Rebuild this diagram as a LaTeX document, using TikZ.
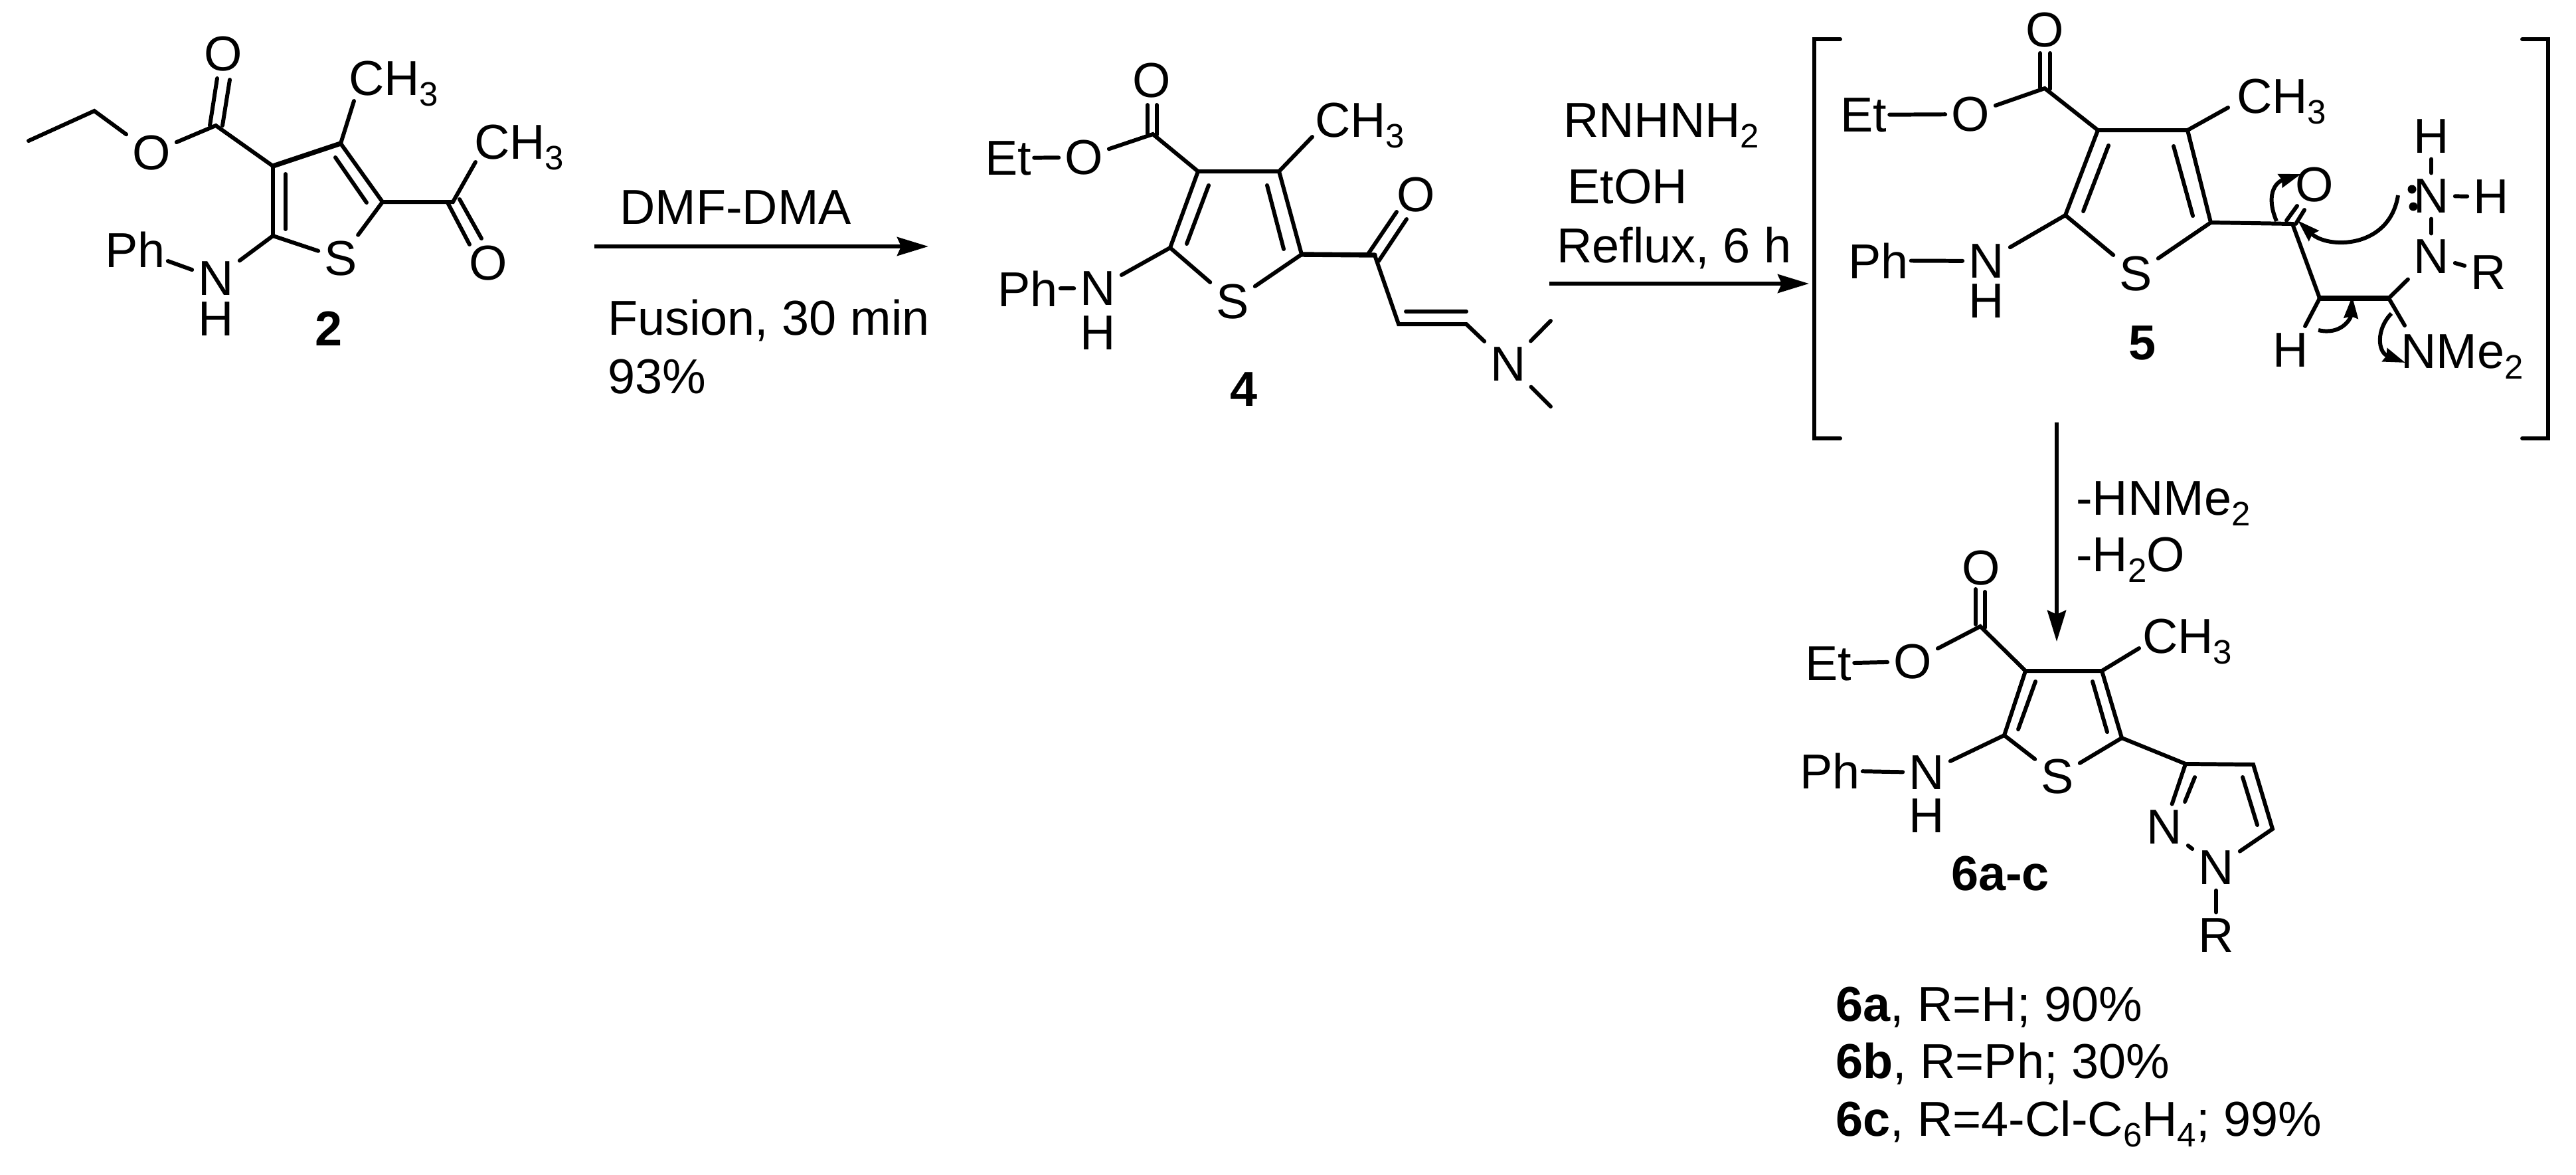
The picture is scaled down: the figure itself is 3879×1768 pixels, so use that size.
\documentclass[tikz,border=0pt]{standalone}
\usepackage{fontspec}
\setmainfont{Liberation Sans}
\usetikzlibrary{arrows.meta}
\newcommand{\lowsub}[1]{\raisebox{-0.22em}{\fontsize{14.5}{14.5}\selectfont #1}}
\tikzset{
	bond/.style = {line width = 1.7pt, line cap = round},
	heavybond/.style = {line width = 2.1pt, line cap = round},
	atom/.style = {inner sep = 2.4pt, font = \fontsize{21}{21}\selectfont},
	hatom/.style = {atom, inner sep = 0pt},
	lonedot/.style = {circle, fill, inner sep = 0pt, minimum size = 0.13cm},
	label/.style = {inner sep = 1pt, xshift = -0.06cm, anchor = base west, font = \fontsize{21}{21}\selectfont},
	tag/.style = {inner sep = 0pt, font = \fontsize{21}{21}\selectfont\bfseries},
	react/.style = {line width = 1.7pt, -{Stealth[length = 0.47cm, width = 0.28cm, inset = 0.06cm]}},
	curly/.style = {line width = 1.7pt, -{Stealth[length = 0.33cm, width = 0.21cm, inset = 0.03cm]}}
}
\begin{document}
\begin{tikzpicture}[x = 0.01cm, y = -0.01cm]
	\useasboundingbox (0,0) rectangle (3879,1768);

	\foreach \n/\x/\y in {a1/43/212, a2/142/167, aC/325/189, aU1/327/118, aU2/316/189, aV1/346/120, aV2/335/189,
		aR3/411/250, aR4/513/216, aR5/576/304, aR2/411/355, aI1/430/262, aI2/430/345, aJ1/505/237, aJ2/552/305,
		aM/533/152, aK/682/304, aK1/674/305, aK2/707/368, aK3/692/300, aK4/725/359, aK5/716/244}
		\coordinate (\n) at (\x,\y);
	\node[atom] (oA1) at (228,230) {O};
	\node[atom] (oA2) at (336,81) {O};
	\node[atom] (oA3) at (735,396) {O};
	\node[atom] (sA) at (513,389) {S};
	\node[atom] (nA) at (325,419) {N};
	\node[hatom] (hA) at (325,480) {H};
	\node[label] (phA) at (160,402) {Ph};
	\node[label] (meA1) at (527,143) {CH\lowsub{3}};
	\node[label] (meA2) at (716,239) {CH\lowsub{3}};
	\node[tag] (tagA) at (495,495) {2};
	\draw[bond] (a1) -- (a2) -- (oA1);
	\draw[bond] (oA1) -- (aC) -- (aR3);
	\draw[bond] (aU1) -- (aU2);
	\draw[bond] (aV1) -- (aV2);
	\draw[heavybond] (aR3) -- (aR4);
	\draw[bond] (aR4) -- (aR5) -- (sA);
	\draw[bond] (aR3) -- (aR2) -- (sA);
	\draw[bond] (aI1) -- (aI2);
	\draw[bond] (aJ1) -- (aJ2);
	\draw[bond] (aR4) -- (aM);
	\draw[bond] (aR2) -- (nA);
	\draw[bond] (phA) -- (nA);
	\draw[bond] (aR5) -- (aK) -- (aK5);
	\draw[bond] (aK1) -- (aK2);
	\draw[bond] (aK3) -- (aK4);

	\coordinate (arrA1) at (895,371);
	\coordinate (arrA2) at (1398,371);
	\draw[react] (arrA1) -- (arrA2);
	\node[label] (rgA1) at (935,337) {DMF-DMA};
	\node[label] (rgA2) at (917,504) {Fusion, 30 min};
	\node[label] (rgA3) at (917,592) {93\%};

	\foreach \n/\x/\y in {bC/1736/202, bU1/1728/158, bU2/1728/201, bV1/1742/158, bV2/1742/203,
		bR3/1804/258, bR4/1926/258, bR5/1960/383, bR2/1762/373, bI1/1820/279, bI2/1787/367, bJ1/1908/279, bJ2/1933/375,
		bM/1976/206, bK/2070/384, bK1/2059/384, bK2/2103/319, bK3/2076/393, bK4/2118/330,
		bE1/2106/488, bE2/2208/488, bF1/2117/469, bF2/2208/469, bQ1/2335/483, bQ2/2335/612}
		\coordinate (\n) at (\x,\y);
	\node[atom] (oB1) at (1734,121) {O};
	\node[atom] (oB2) at (1632,237) {O};
	\node[atom] (oB3) at (2132,293) {O};
	\node[atom] (sB) at (1856,454) {S};
	\node[atom] (nB) at (1653,434) {N};
	\node[hatom] (hB) at (1653,501) {H};
	\node[atom] (nB2) at (2271,548) {N};
	\node[label] (etB) at (1485,263) {Et};
	\node[label] (phB) at (1504,461) {Ph};
	\node[label] (meB) at (1982,206) {CH\lowsub{3}};
	\node[tag] (tagB) at (1873,586) {4};
	\draw[bond] (bU1) -- (bU2);
	\draw[bond] (bV1) -- (bV2);
	\draw[bond] (etB) -- (oB2) -- (bC) -- (bR3);
	\draw[bond] (bR3) -- (bR4) -- (bR5) -- (sB);
	\draw[bond] (bR3) -- (bR2) -- (sB);
	\draw[bond] (bI1) -- (bI2);
	\draw[bond] (bJ1) -- (bJ2);
	\draw[bond] (bR4) -- (bM);
	\draw[bond] (bR2) -- (nB);
	\draw[bond] (phB) -- (nB);
	\draw[heavybond] (bR5) -- (bK);
	\draw[bond] (bK1) -- (bK2);
	\draw[bond] (bK3) -- (bK4);
	\draw[bond] (bK) -- (bE1) -- (bE2) -- (nB2);
	\draw[bond] (bF1) -- (bF2);
	\draw[bond] (nB2) -- (bQ1);
	\draw[bond] (nB2) -- (bQ2);

	\coordinate (arrB1) at (2333,427);
	\coordinate (arrB2) at (2724,427);
	\draw[react] (arrB1) -- (arrB2);
	\node[label] (rgB1) at (2356,206) {RNHNH\lowsub{2}};
	\node[label] (rgB2) at (2362,306) {EtOH};
	\node[label] (rgB3) at (2346,395) {Reflux, 6 h};

	\foreach \n/\x/\y in {brL1/2771/59, brL2/2732/59, brL3/2732/660, brL4/2771/660,
		brR1/3798/59, brR2/3837/59, brR3/3837/660, brR4/3798/660,
		dC/3079/133, dU1/3072/80, dU2/3072/132, dV1/3087/80, dV2/3087/134,
		dR3/3159/196, dR4/3294/196, dR5/3329/335, dR2/3110/324, dI1/3175/219, dI2/3137/318, dJ1/3273/220, dJ2/3302/325,
		dM/3355/162, dK/3452/337, dK1/3443/332, dK2/3459/310, dK3/3457/337, dK4/3470/316,
		dE1/3493/449, dE2/3597/449, dH1/3471/491, dG1/3621/490,
		cvA1/3611/294, cvA2/3598/375, cvA3/3505/375, cvA4/3460/332,
		cvB1/3428/333, cvB2/3412/295, cvB3/3425/275, cvB4/3465/262,
		cvC1/3491/497, cvC2/3525/505, cvC3/3540/480, cvC4/3542/446,
		cvD1/3601/472, cvD2/3578/495, cvD3/3580/530, cvD4/3622/546}
		\coordinate (\n) at (\x,\y);
	\draw[bond] (brL1) -- (brL2) -- (brL3) -- (brL4);
	\draw[bond] (brR1) -- (brR2) -- (brR3) -- (brR4);
	\node[atom] (oD1) at (3079,45) {O};
	\node[atom] (oD2) at (2967,172) {O};
	\node[atom] (oD3) at (3485,278) {O};
	\node[atom] (sD) at (3216,412) {S};
	\node[atom] (nD) at (2991,393) {N};
	\node[hatom] (hD) at (2991,453) {H};
	\node[atom] (nD2) at (3661,295) {N};
	\node[atom] (nD3) at (3661,386) {N};
	\node[atom] (hD2) at (3661,205) {H};
	\node[atom] (hD3) at (3751,296) {H};
	\node[atom] (hD4) at (3449,527) {H};
	\node[atom] (rD) at (3747,410) {R};
	\node[lonedot] (lpD1) at (3632,285) {};
	\node[lonedot] (lpD2) at (3634,311) {};
	\node[label] (etD) at (2773,198) {Et};
	\node[label] (phD) at (2785,419) {Ph};
	\node[label] (meD) at (3370,170) {CH\lowsub{3}};
	\node[label] (nmeD) at (3617,554) {NMe\lowsub{2}};
	\node[tag] (tagD) at (3226,516) {5};
	\draw[bond] (dU1) -- (dU2);
	\draw[bond] (dV1) -- (dV2);
	\draw[bond] (etD) -- (oD2) -- (dC) -- (dR3);
	\draw[bond] (dR3) -- (dR4) -- (dR5) -- (sD);
	\draw[bond] (dR3) -- (dR2) -- (sD);
	\draw[bond] (dI1) -- (dI2);
	\draw[bond] (dJ1) -- (dJ2);
	\draw[bond] (dR4) -- (dM);
	\draw[bond] (dR2) -- (nD);
	\draw[bond] (phD) -- (nD);
	\draw[bond] (dR5) -- (dK) -- (dE1);
	\draw[bond] (dK1) -- (dK2);
	\draw[bond] (dK3) -- (dK4);
	\draw[heavybond] (dE1) -- (dE2);
	\draw[bond] (dE1) -- (dH1);
	\draw[bond] (dE2) -- (nD3);
	\draw[bond] (dE2) -- (dG1);
	\draw[bond] (nD3) -- (rD);
	\draw[bond] (nD2) -- (hD2);
	\draw[bond] (nD2) -- (hD3);
	\draw[bond] (nD2) -- (nD3);
	\draw[curly] (cvA1) .. controls (cvA2) and (cvA3) .. (cvA4);
	\draw[curly] (cvB1) .. controls (cvB2) and (cvB3) .. (cvB4);
	\draw[curly] (cvC1) .. controls (cvC2) and (cvC3) .. (cvC4);
	\draw[curly] (cvD1) .. controls (cvD2) and (cvD3) .. (cvD4);

	\coordinate (arrC1) at (3097,636);
	\coordinate (arrC2) at (3097,966);
	\draw[react] (arrC1) -- (arrC2);
	\node[label] (rgC1) at (3128,775) {-HNMe\lowsub{2}};
	\node[label] (rgC2) at (3128,860) {-H\lowsub{2}O};

	\foreach \n/\x/\y in {fC/2982/943, fU1/2975/887, fU2/2975/940, fV1/2989/891, fV2/2989/945,
		fR3/3050/1010, fR4/3165/1010, fR5/3195/1111, fR2/3018/1107, fI1/3065/1026, fI2/3039/1098, fJ1/3151/1026, fJ2/3173/1102,
		fM/3221/976, fP3/3291/1150, fP4/3393/1151, fP5/3422/1248, fL1/3305/1170, fL2/3290/1207, fL3/3377/1170, fL4/3399/1242}
		\coordinate (\n) at (\x,\y);
	\node[atom] (oF1) at (2983,855) {O};
	\node[atom] (oF2) at (2880,996) {O};
	\node[atom] (sF) at (3098,1169) {S};
	\node[atom] (nF) at (2901,1163) {N};
	\node[hatom] (hF) at (2901,1228) {H};
	\node[atom] (nF2) at (3259,1245) {N};
	\node[atom] (nF3) at (3337,1306) {N};
	\node[atom] (rF) at (3337,1408) {R};
	\node[label] (etF) at (2720,1024) {Et};
	\node[label] (phF) at (2712,1187) {Ph};
	\node[label] (meF) at (3228,983) {CH\lowsub{3}};
	\node[label] (tagF) at (2940,1340) {\bfseries 6a-c};
	\draw[bond] (fU1) -- (fU2);
	\draw[bond] (fV1) -- (fV2);
	\draw[bond] (etF) -- (oF2) -- (fC) -- (fR3);
	\draw[bond] (fR3) -- (fR4) -- (fR5) -- (sF);
	\draw[bond] (fR3) -- (fR2) -- (sF);
	\draw[bond] (fI1) -- (fI2);
	\draw[bond] (fJ1) -- (fJ2);
	\draw[bond] (fR4) -- (fM);
	\draw[bond] (fR2) -- (nF);
	\draw[bond] (phF) -- (nF);
	\draw[bond] (fR5) -- (fP3) -- (fP4) -- (fP5) -- (nF3);
	\draw[bond] (fP3) -- (nF2);
	\draw[bond] (nF2) -- (nF3);
	\draw[bond] (nF3) -- (rF);
	\draw[bond] (fL1) -- (fL2);
	\draw[bond] (fL3) -- (fL4);

	\node[label] (resA) at (2766,1537) {\textbf{6a}, R=H; 90\%};
	\node[label] (resB) at (2766,1623) {\textbf{6b}, R=Ph; 30\%};
	\node[label] (resC) at (2766,1710) {\textbf{6c}, R=4-Cl-C\lowsub{6}H\lowsub{4}; 99\%};
\end{tikzpicture}
\end{document}
